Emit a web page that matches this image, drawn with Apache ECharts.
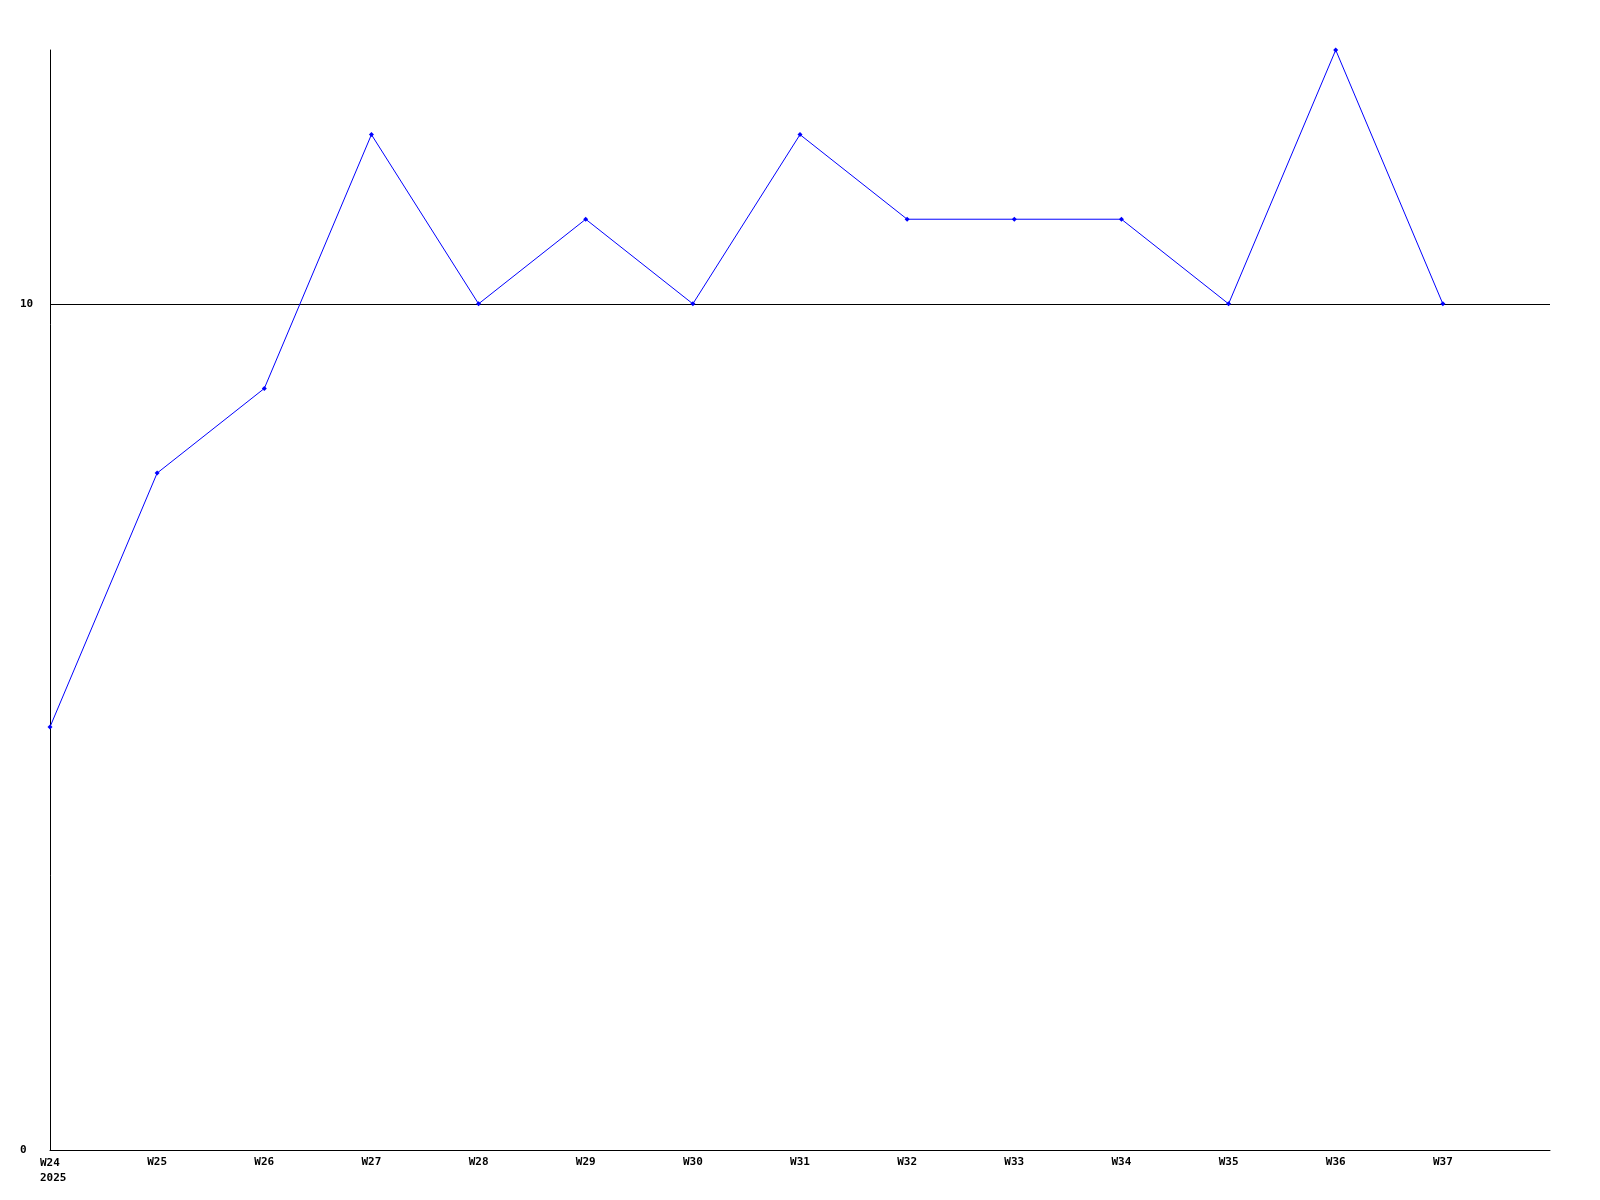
<!DOCTYPE html>
<html>
<head>
<meta charset="utf-8">
<script src="https://cdn.jsdelivr.net/npm/echarts@6/dist/echarts.min.js"></script>
<style>
  html, body { margin: 0; padding: 0; background: #fff; }
  #chart { width: 1600px; height: 1200px; }
</style>
</head>
<body>
<div id="chart"></div>
<script>
// week labels along x, one value per week
const weeks = ['W24', 'W25', 'W26', 'W27', 'W28', 'W29', 'W30', 'W31', 'W32', 'W33', 'W34', 'W35', 'W36', 'W37']
const counts = [5, 8, 9, 12, 10, 11, 10, 12, 11, 11, 11, 10, 13, 10]
const yearLabel = '2025'

const font = { fontFamily: '"DejaVu Sans Mono", monospace', fontSize: 11, fontWeight: 'bold', color: '#000' }

const chart = echarts.init(document.getElementById('chart'))

chart.setOption({
  animation: false,
  grid: { left: 50, right: 50, top: 50, bottom: 50 },
  xAxis: {
    type: 'value',
    min: 0,
    max: weeks.length,
    interval: 1,
    axisLine: { lineStyle: { color: '#000', width: 1 } },
    axisTick: { show: false },
    splitLine: { show: false },
    axisLabel: {
      ...font,
      margin: 7,
      formatter: (v) => {
        // first label carries the year on a second line, left aligned with the week
        if (v === 0) return '{a|' + weeks[0] + '}\n{b|' + yearLabel + '}'
        return weeks[v] || ''
      },
      rich: {
        a: { ...font, width: 20, align: 'left', lineHeight: 13 },
        b: { ...font, width: 20, align: 'left', lineHeight: 17 }
      }
    }
  },
  yAxis: {
    type: 'value',
    min: 0,
    max: 13,
    interval: 10,
    axisLine: { show: true, lineStyle: { color: '#000', width: 1 } },
    axisTick: { show: false },
    splitLine: { showMaxLine: false, lineStyle: { color: '#000', width: 1 } },
    axisLabel: {
      ...font,
      align: 'left',
      margin: 30,
      showMaxLabel: false
    }
  },
  series: [{
    type: 'line',
    data: counts.map((c, i) => [i, c]),
    lineStyle: { color: '#0000ff', width: 1 },
    itemStyle: { color: '#0000ff' },
    symbol: 'diamond',
    symbolSize: 5,
    showSymbol: true
  }]
})
</script>
</body>
</html>
